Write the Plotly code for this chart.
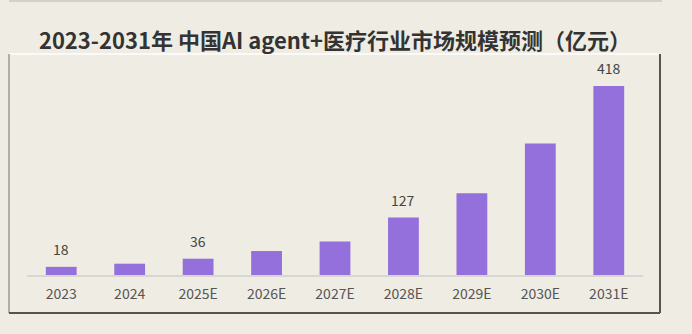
import plotly.graph_objects as go

categories = ["2023", "2024", "2025E", "2026E", "2027E", "2028E", "2029E", "2030E", "2031E"]
values = [18, 25, 36, 53, 74, 127, 181, 291, 418]
labels = ["18", "", "36", "", "", "127", "", "", "418"]
title = "2023-2031年 中国AI agent+医疗行业市场规模预测（亿元）"

W, H = 692, 334
ML, MR, MT, MB = 27, 49, 60, 59
BG = "#eeece3"
FONT = "Noto Sans CJK SC"

def px(x):
    return (x - ML) / (W - ML - MR)

def py(y):
    return (H - MB - y) / (H - MT - MB)

fig = go.Figure()
fig.add_trace(go.Bar(x=categories, y=values, marker_color="#9370db",
                     marker_line_width=0, width=0.45))

for i, (v, t) in enumerate(zip(values, labels)):
    if t:
        fig.add_annotation(x=i, y=v, text=t, showarrow=False, yanchor="bottom",
                           yshift=6, font=dict(family=FONT, size=14, color="#444"))

L, R, T, B = 9, 660, 54, 313
shapes = [
    dict(type="line", xref="paper", yref="paper", x0=px(9), x1=px(662), y0=py(1), y1=py(1),
         line=dict(color="#c9c9c4", width=1.5)),
    dict(type="line", xref="paper", yref="paper", x0=px(L), x1=px(R), y0=py(T), y1=py(T),
         line=dict(color="#ffffff", width=1.5)),
    dict(type="line", xref="paper", yref="paper", x0=px(L), x1=px(L), y0=py(T), y1=py(B),
         line=dict(color="#9a9a96", width=1.5)),
    dict(type="line", xref="paper", yref="paper", x0=px(L), x1=px(R), y0=py(B), y1=py(B),
         line=dict(color="#55554f", width=2)),
    dict(type="line", xref="paper", yref="paper", x0=px(R), x1=px(R), y0=py(T), y1=py(B),
         line=dict(color="#55554f", width=2)),
]

fig.update_layout(
    width=W, height=H,
    margin=dict(l=ML, r=MR, t=MT, b=MB),
    paper_bgcolor=BG, plot_bgcolor=BG,
    showlegend=False,
    shapes=shapes,
    title=dict(text="<b>" + title + "</b>", xref="container", x=335 / W, xanchor="center",
               y=(H - 41) / H, yanchor="middle",
               font=dict(family=FONT, size=22, color="#333333")),
    xaxis=dict(type="category", range=[-0.5, len(categories) - 0.5], showline=True,
               linecolor="#d6d6d2", linewidth=1.5,
               showgrid=False, ticks="", ticklabelstandoff=5,
               tickfont=dict(family=FONT, size=14, color="#555555")),
    yaxis=dict(visible=False, range=[0, 475.5], showgrid=False),
    font=dict(family=FONT),
)

fig.write_html("out.html")
